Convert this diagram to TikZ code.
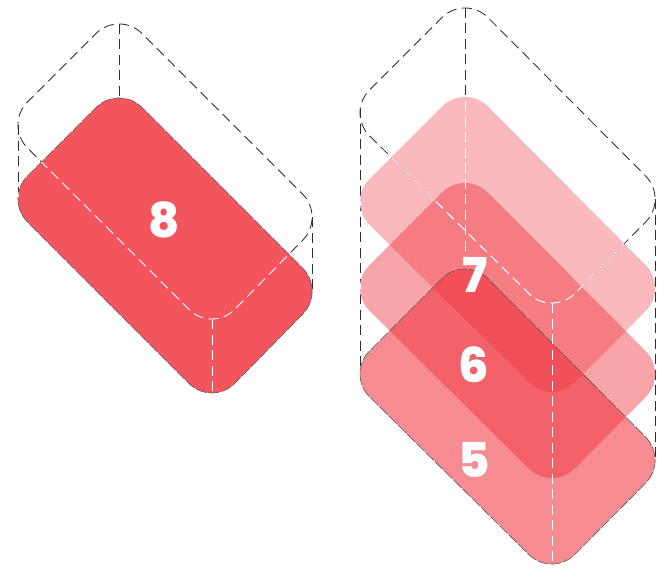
\documentclass[tikz,border=0pt]{standalone}
\usepackage{fontspec}
\setmainfont{Poppins}
\newfontfamily\digitfont{Poppins ExtraBold}
\usetikzlibrary{calc}
\definecolor{redbase}{RGB}{242,86,92}
\definecolor{redlayer}{RGB}{238,40,50}
\definecolor{dashdark}{RGB}{45,45,45}
\tikzset{
  dashline/.style={line width=0.85pt,dash pattern=on 10pt off 5.5pt,line join=round},
  darkdash/.style={dashline,draw=dashdark},
  whitedash/.style={dashline,draw=white},
  edgedash/.style={line width=0.6pt,dash pattern=on 11pt off 2pt,draw=dashdark!80},
  digit/.style={text=white,font=\digitfont\fontsize{48}{48}\selectfont,inner sep=0pt},
  round box/.style={rounded corners=32.5pt}
}
% rounded tilted box outlines, as path fragments
\newcommand{\leftbox}[1]{[round box] ($(119,10.5+#1)!.5!(325.5,217+#1)$) -- (325.5,217+#1) -- (212,332.5+#1) -- (4.5,125+#1) -- (119,10.5+#1) -- cycle}
\newcommand{\rightbox}[1]{[round box] ($(465,#1-13.5)!.5!(668.5,#1+191)$) -- (668.5,#1+191) -- (552,#1+308.5) -- (346.5,#1+105) -- (465,#1-13.5) -- cycle}
\newcommand{\leftdashes}{
  \draw (upA) -- (loA); \draw (upB) -- (loB); \draw (upC) -- (loC); \draw (upD) -- (loD);
  \path[draw] \leftbox{0};
}
\newcommand{\rightdashes}{
  \draw (rupA) -- (rloA); \draw (rupB) -- (rloB); \draw (rupC) -- (rloC); \draw (rupD) -- (rloD);
  \path[draw] \rightbox{8};
}
\begin{document}
\begin{tikzpicture}[x=1pt,y=-1pt]
\useasboundingbox (0,0) rectangle (668,567);
% left stack vertical edge ends
\coordinate (upA) at (119,24);  \coordinate (loA) at (119,98);
\coordinate (upB) at (18,125);  \coordinate (loB) at (18,199);
\coordinate (upC) at (312,217); \coordinate (loC) at (312,291);
\coordinate (upD) at (212,319); \coordinate (loD) at (212,393);
% right stack vertical edge ends
\coordinate (rupA) at (465,8);   \coordinate (rloA) at (465,269);
\coordinate (rupB) at (360,108); \coordinate (rloB) at (360,370);
\coordinate (rupC) at (655,199); \coordinate (rloC) at (655,460);
\coordinate (rupD) at (552,303); \coordinate (rloD) at (552,564);

% left
\begin{scope}[darkdash] \leftdashes \end{scope}
\path[fill=redbase] \leftbox{74};
\path[edgedash] \leftbox{74};
\begin{scope}
  \clip \leftbox{74};
  \begin{scope}[whitedash] \leftdashes \end{scope}
\end{scope}

% right
\begin{scope}[darkdash] \rightdashes \end{scope}
\path[fill=redlayer,fill opacity=0.32] \rightbox{97};
\path[fill=redlayer,fill opacity=0.42] \rightbox{183};
\path[fill=redlayer,fill opacity=0.535] \rightbox{269};
\path[edgedash] \rightbox{269};
\begin{scope}
  \clip \rightbox{97};
  \begin{scope}[whitedash] \rightdashes \end{scope}
\end{scope}
\begin{scope}
  \clip \rightbox{183};
  \begin{scope}[whitedash] \rightdashes \end{scope}
\end{scope}
\begin{scope}
  \clip \rightbox{269};
  \begin{scope}[whitedash] \rightdashes \end{scope}
\end{scope}

\node[digit] (n8) at (164.5,220) {8};
\node[digit] (n7) at (475,275) {7};
\node[digit] (n6) at (474,365) {6};
\node[digit] (n5) at (474,460) {5};
\end{tikzpicture}
\end{document}
